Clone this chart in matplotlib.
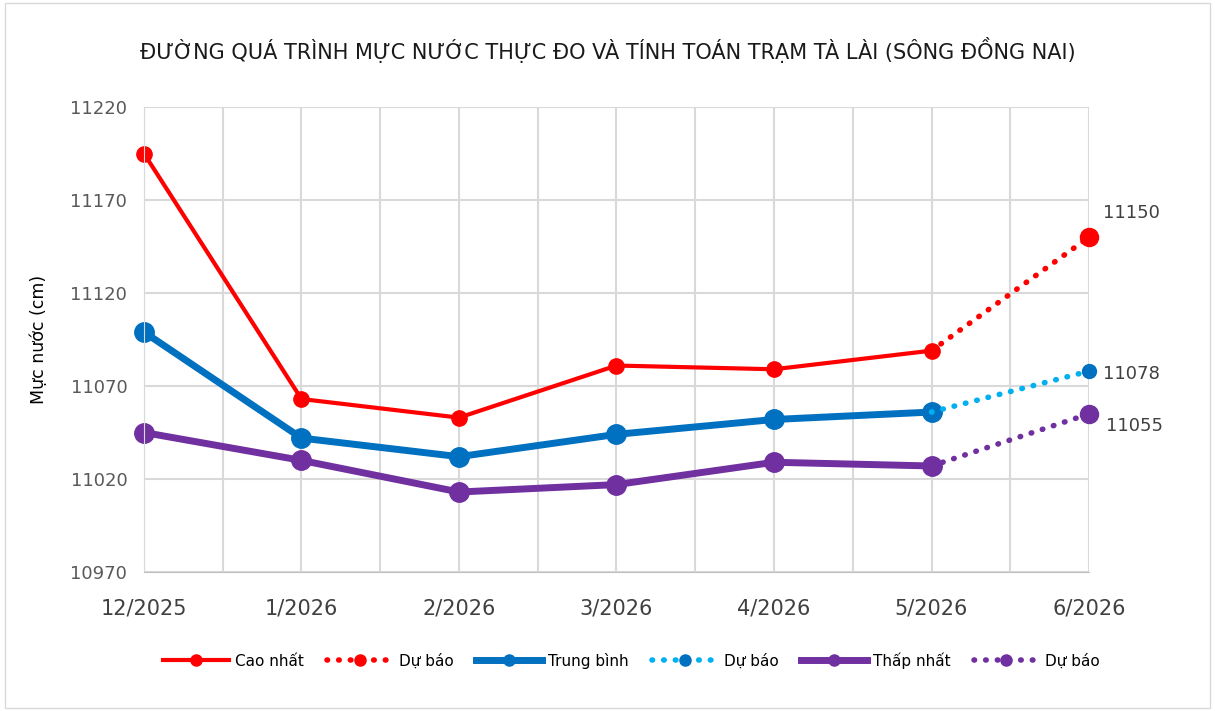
import matplotlib.pyplot as plt
from matplotlib.patches import Rectangle

months = ["12/2025", "1/2026", "2/2026", "3/2026", "4/2026", "5/2026", "6/2026"]
cao_nhat = [11195, 11063, 11053, 11081, 11079, 11089]
trung_binh = [11099, 11042, 11032, 11044, 11052, 11056]
thap_nhat = [11045, 11030, 11013, 11017, 11029, 11027]
# du bao: gia tri thang 5 noi sang thang 6
du_bao_cao = [11089, 11150]
du_bao_tb = [11056, 11078]
du_bao_thap = [11027, 11055]

RED = "#FF0000"
BLUE = "#0070C0"
LIGHT_BLUE = "#00B0F0"
PURPLE = "#7030A0"

plt.rcParams["font.family"] = ["DejaVu Sans"]

fig = plt.figure(figsize=(12.15, 7.11), dpi=100)
ax = fig.add_axes([0.1185, 0.1955, 0.7778, 0.654])

x = list(range(len(months)))
xf = x[-2:]
dots = (0, (0.1, 2.0))

ax.plot(x[:-1], cao_nhat, color=RED, lw=3, marker="o", ms=11, label="Cao nhất", clip_on=False)
ax.plot(xf, du_bao_cao, color=RED, lw=4, ls=dots, dash_capstyle="round",
        marker="o", ms=13, markevery=[1], label="Dự báo", clip_on=False)
ax.plot(x[:-1], trung_binh, color=BLUE, lw=5, marker="o", ms=14, label="Trung bình", clip_on=False)
ax.plot(xf, du_bao_tb, color=LIGHT_BLUE, lw=4, ls=dots, dash_capstyle="round",
        marker="o", markevery=[1], ms=10, mfc=BLUE, mec=BLUE, label="Dự báo", clip_on=False)
ax.plot(x[:-1], thap_nhat, color=PURPLE, lw=5, marker="o", ms=14, label="Thấp nhất", clip_on=False)
ax.plot(xf, du_bao_thap, color=PURPLE, lw=4, ls=dots, dash_capstyle="round",
        marker="o", markevery=[1], ms=13, label="Dự báo", clip_on=False)

ax.annotate(str(du_bao_cao[1]), (x[-1], du_bao_cao[1]), xytext=(10, 14),
            textcoords="offset points", fontsize=13, color="#404040")
ax.annotate(str(du_bao_tb[1]), (x[-1], du_bao_tb[1]), xytext=(10, -6),
            textcoords="offset points", fontsize=13, color="#404040")
ax.annotate(str(du_bao_thap[1]), (x[-1], du_bao_thap[1]), xytext=(12, -12),
            textcoords="offset points", fontsize=13, color="#404040")

ax.set_xlim(0, len(months) - 1)
ax.set_ylim(10970, 11220)
ax.set_yticks(range(10970, 11221, 50))
ax.set_xticks(x)
ax.set_xticklabels(months)
ax.set_xticks([i + 0.5 for i in x[:-1]], minor=True)
ax.grid(True, which="both", color="#D9D9D9", lw=1.5)
ax.set_axisbelow(True)
ax.tick_params(axis="both", which="both", length=0, colors="#595959", labelsize=13)
ax.tick_params(axis="x", pad=19, labelsize=15, labelcolor="#404040")
ax.tick_params(axis="y", pad=12)
for s in ax.spines.values():
    s.set_visible(False)
ax.spines["bottom"].set_visible(True)
ax.spines["bottom"].set_color("#BFBFBF")
ax.spines["left"].set_visible(True)
ax.spines["left"].set_color("#D9D9D9")

ax.set_ylabel("Mực nước (cm)", fontsize=12.5, labelpad=16)
fig.suptitle("ĐƯỜNG QUÁ TRÌNH MỰC NƯỚC THỰC ĐO VÀ TÍNH TOÁN TRẠM TÀ LÀI (SÔNG ĐỒNG NAI)",
             fontsize=15, y=0.948, color="#1a1a1a")

leg = fig.legend(loc="lower center", bbox_to_anchor=(0.52, 0.04), ncol=6, frameon=False,
                 fontsize=11, handlelength=4.3, columnspacing=1.5, handletextpad=0.4)
for h in leg.legend_handles:
    h.set_markersize(8)

fig.add_artist(Rectangle((0.004, 0.004), 0.992, 0.992, transform=fig.transFigure,
                         fill=False, ec="#D9D9D9", lw=1))

fig.savefig("out.png", dpi=100)
